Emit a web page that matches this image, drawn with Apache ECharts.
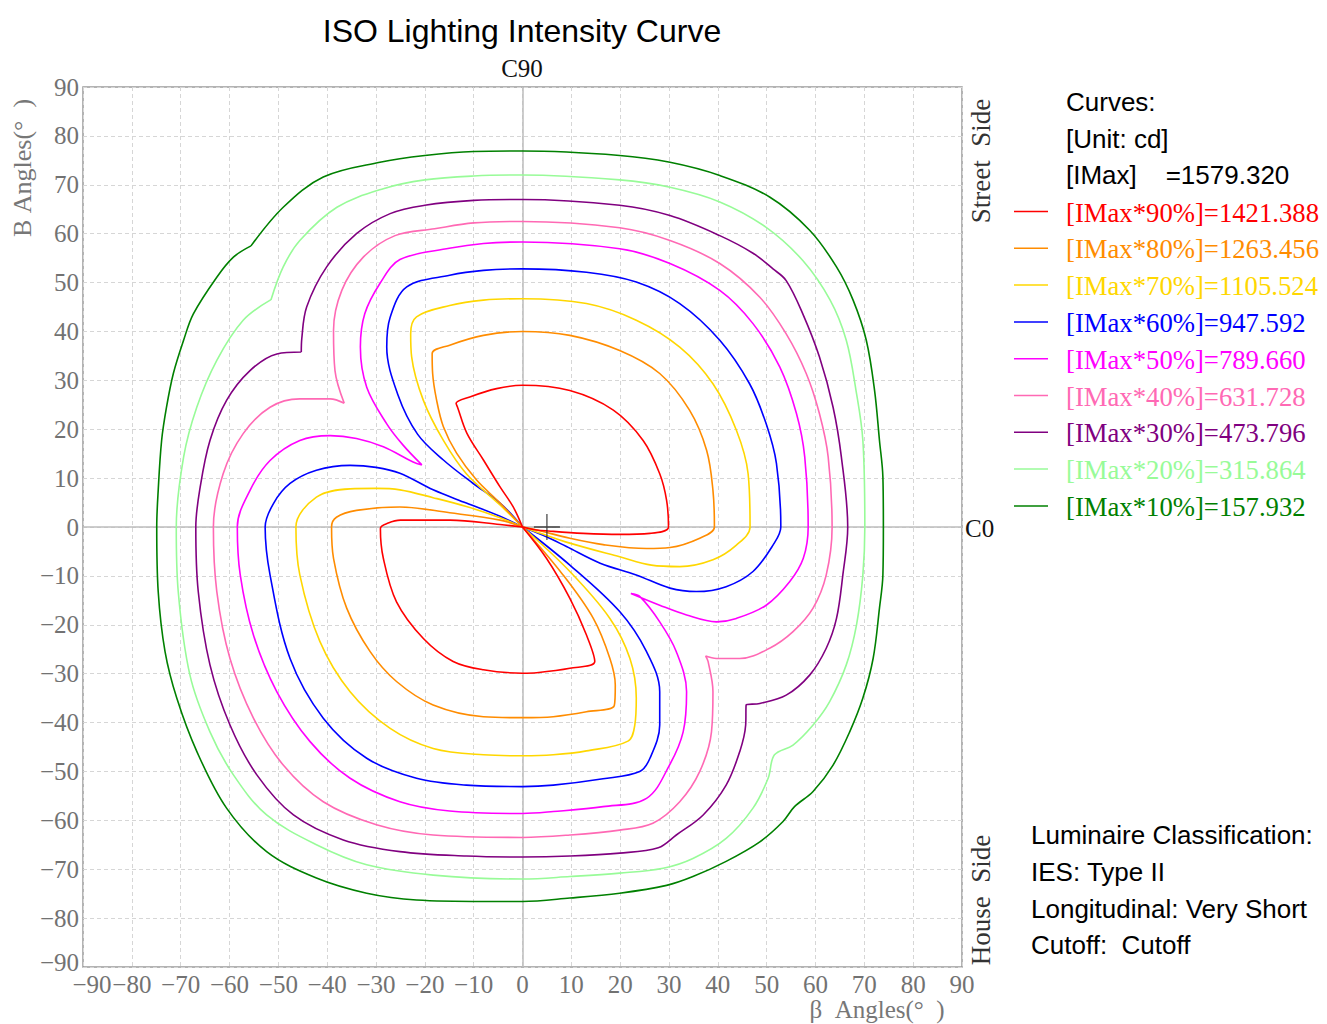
<!DOCTYPE html>
<html><head><meta charset="utf-8">
<script src="https://cdn.jsdelivr.net/npm/echarts@6/dist/echarts.min.js"></script>
<style>html,body{margin:0;padding:0;background:#fff}#main{width:1327px;height:1024px}</style>
</head><body><div id="main"></div>
<script>
// axis ticks
const betaTicks = [-90,-80,-70,-60,-50,-40,-30,-20,-10,0,10,20,30,40,50,60,70,80,90];
const bTicks = [-90,-80,-70,-60,-50,-40,-30,-20,-10,0,10,20,30,40,50,60,70,80,90];

// legend
const levelNames = ['[IMax*90%]=1421.388','[IMax*80%]=1263.456','[IMax*70%]=1105.524','[IMax*60%]=947.592','[IMax*50%]=789.660','[IMax*40%]=631.728','[IMax*30%]=473.796','[IMax*20%]=315.864','[IMax*10%]=157.932'];
const levelColors = ['#ff0000','#ff8c00','#ffd700','#0000ff','#ff00ff','#ff69b4','#800080','#98fb98','#008000'];
const headerLines = ['Curves:','[Unit: cd]','[IMax]\u00a0\u00a0\u00a0\u00a0=1579.320'];
const classLines = ['Luminaire Classification:','IES: Type II','Longitudinal: Very Short','Cutoff:\u00a0\u00a0Cutoff'];

// isolux curves [beta, B]; a repeated point marks a sharp corner
const c90Upper = [[0,0],[-1.9,4.1],[-4.6,8.2],[-8,13.7],[-11.4,19.2],[-13.3,24.5],[-13.6,25.3],[-13.6,25.3],[-10.8,26.6],[-5.3,28.3],[0,29.0],[9.7,27.9],[18.6,23.9],[24.7,17.7],[28.1,10.9],[29.5,5.5],[29.9,0],[29.9,0],[26.1,-1.3],[19.9,-1.5],[12.4,-1.3],[6.3,-0.9],[2.2,-0.5],[0,0]];
const c90Lower = [[0,0],[-4.6,0.5],[-14.8,1.4],[-25,1.4],[-27.5,0.8],[-29.1,-0.3],[-29.1,-0.3],[-28.5,-6.4],[-25.8,-15.3],[-20.3,-22.8],[-14.2,-27.5],[-8,-29.2],[0,-29.9],[2.9,-29.8],[9.7,-28.9],[14.8,-27.5],[14.8,-27.5],[13.1,-22.1],[9.7,-14.6],[4.9,-6.4],[0,0]];
const c80Upper = [[0,0],[-4.6,4.9],[-9.4,9.6],[-13.5,15.1],[-16.2,20.5],[-17.6,26],[-18.4,31.4],[-18.5,35.5],[-18.5,35.5],[-14.9,37.2],[-8,39.2],[0,40],[9.7,39.2],[19.9,36.1],[28.1,31.4],[34.2,23.9],[37.7,15.7],[39,7.5],[39.3,0],[39.3,0],[36.3,-2.3],[30.2,-4.2],[25.4,-4.4],[16.5,-3.6],[9.7,-2.3],[2.9,-0.6],[0,0]];
const c80Lower = [[0,0],[-4.6,1.4],[-14.9,2.9],[-25.1,4.1],[-34,3.4],[-38.1,2],[-39.1,0],[-39.1,0],[-38.7,-6.4],[-36,-16.6],[-31.2,-25.5],[-25.8,-31.6],[-18.3,-36.4],[-8,-38.8],[0,-39],[6.3,-38.8],[13.1,-37.8],[18.8,-36.5],[18.8,-36.5],[19,-32.3],[17.9,-26.9],[14.5,-18.7],[8.3,-9.8],[0,0]];
const c70Upper = [[0,0],[-4.6,4.5],[-11.5,10.9],[-16.2,17.7],[-20.3,25.9],[-22.7,34.8],[-22.9,39.5],[-21.7,43],[-21.7,43],[-14.9,45.3],[-8,46.4],[0,46.7],[13.1,45.7],[23.3,42.3],[32.2,36.8],[39,29.3],[43.8,19.8],[46.2,10.9],[46.6,0],[46.6,0],[43.8,-3.7],[39,-6.7],[32.2,-8.1],[26.4,-7.8],[19.9,-6.1],[9.7,-3.3],[2.9,-1],[0,0]];
const c70Lower = [[0,0],[-4.6,1.9],[-11.5,4.2],[-18.3,6],[-25.1,7.6],[-30,7.9],[-35.3,7.8],[-42.2,6.1],[-46.4,0],[-46.4,0],[-45.6,-9.8],[-41.5,-23.4],[-35.3,-33.7],[-27.1,-41.2],[-18.3,-45.3],[-8,-46.6],[0,-46.8],[6.3,-46.6],[13.1,-45.8],[21.6,-43.8],[21.6,-43.8],[23,-40.5],[23.3,-35],[22,-26.9],[17.9,-18.7],[9.7,-9.1],[0,0]];
const c60Upper = [[0,0],[-4.6,4.9],[-10.1,8.9],[-16.2,13.7],[-21.5,19],[-25.5,27],[-27.8,36.8],[-27.1,42.9],[-23.7,49.1],[-23.7,49.1],[-14.9,51.5],[-8,52.5],[0,52.8],[13.1,52.1],[23.3,50.1],[32.2,45.7],[40.4,38.2],[46.5,29.3],[49.9,21.1],[52,13],[52.9,0],[51.3,-3.7],[47.2,-9.1],[41.7,-12.2],[35.6,-13.2],[30.2,-12.5],[23.3,-9.8],[15.9,-7.4],[9,-4],[4.9,-2],[0,0]];
const c60Lower = [[0,0],[-4.6,2.2],[-11.5,4.9],[-18.3,7.6],[-25.1,11],[-30,12.2],[-35.3,12.6],[-42.2,11.6],[-47.6,8.9],[-51,4.8],[-52.7,0],[-51.7,-9.8],[-47.6,-26.9],[-40.8,-39.1],[-31.9,-47.3],[-21.7,-51.4],[-11.5,-52.8],[0,-53.1],[6.3,-52.8],[16.5,-51.5],[24,-50],[24,-50],[26.1,-47.3],[28.1,-40.5],[28.1,-33.7],[25.4,-25.5],[19.9,-17.3],[9.7,-7.8],[0,0]];
const c50 = [[-20.6,12.7],[-22.4,13.3],[-28.5,16.4],[-34,18.1],[-39.4,18.7],[-45.6,17.7],[-51.7,13.6],[-55.8,7.5],[-58.4,0],[-57.8,-9.8],[-55.1,-22.1],[-50.3,-33.7],[-43.5,-43.9],[-35.3,-51.4],[-25.1,-56.2],[-14.9,-58.1],[0,-58.6],[6.3,-58.2],[16.5,-57.2],[25.4,-55.5],[25.4,-55.5],[30.1,-48.7],[32.9,-41.9],[33.6,-33.7],[31.5,-25.5],[28.1,-19.4],[24,-14.2],[22.2,-13.6],[22.2,-13.6],[28.1,-16],[33.6,-18],[39.7,-19.4],[43.8,-18.7],[49.9,-16],[54.7,-11.2],[57.5,-6.4],[58.5,0],[57.8,14.3],[56.1,23.2],[52.7,32.7],[47.2,41.6],[40.4,48.4],[30.2,53.9],[19.9,56.9],[0,58.3],[-8,58],[-15,57],[-25.1,54.7],[-25.1,54.7],[-29.2,49.8],[-32.3,43.6],[-33.2,36.8],[-31.9,28.6],[-27.8,21.1],[-24.5,16.8],[-20.6,12.7]];
const c40 = [[-36.5,25.3],[-39.4,26.2],[-45.6,26.2],[-51.7,24.5],[-57.2,19.1],[-61.3,10.9],[-63.3,0],[-62.6,-13.2],[-59.9,-26.9],[-55.1,-39.1],[-49,-48.7],[-40.8,-56.2],[-29.9,-60.9],[-18.3,-63],[0,-63.5],[9.7,-63],[19.9,-62],[26.7,-60.6],[26.7,-60.6],[32.2,-56.2],[36.3,-50],[38.7,-41.9],[39,-33.7],[38,-27.5],[37.5,-26.4],[37.5,-26.4],[39.7,-26.9],[44.5,-26.9],[50.6,-24.8],[55.4,-21.4],[59.5,-16.6],[62.2,-9.8],[63.4,0],[62.6,14.3],[60.8,23.2],[58.1,31.4],[54,39.5],[48.6,47],[40.4,53.9],[30.2,58.6],[19.9,61.2],[0,62.5],[-10,62.2],[-18,61],[-26.1,59.6],[-26.1,59.6],[-32.6,55.2],[-37,48.4],[-38.7,40.2],[-38.4,32],[-36.5,25.3]];
const c30 = [[-45.3,35.8],[-50.3,35.4],[-55.8,32],[-60.6,25.9],[-64,17.7],[-66,8.2],[-66.9,0],[-66.4,-13.2],[-64,-28.2],[-59.9,-40.5],[-54.4,-50.7],[-46.9,-58.9],[-36.7,-64],[-25.1,-66.4],[-11.5,-67.3],[0,-67.5],[9.7,-67.3],[19.9,-66.7],[27.8,-65.6],[27.8,-65.6],[31.5,-63],[37,-58.9],[41.7,-52.8],[44.5,-45.9],[45.7,-40.5],[45.8,-36.4],[45.8,-36.4],[48.6,-36.1],[54,-34.4],[58.8,-30.3],[62.2,-24.8],[64.3,-18.7],[65.6,-9.8],[66.6,0],[65.3,14.3],[63.6,24.5],[60.8,34.8],[57.4,43.6],[54,50.4],[51.3,52.8],[47.2,56],[40.4,59.6],[30.2,63.7],[19.9,65.8],[0,67],[-10,66.8],[-20,65.8],[-27.1,64.1],[-27.1,64.1],[-34,60],[-40.1,53.2],[-44.2,45],[-45.2,38.5],[-45.3,35.8]];
const c20 = [[-51.5,46.5],[-57.2,42.3],[-62.6,34.1],[-66.7,24.5],[-69.4,14.3],[-70.9,0],[-70.5,-13.2],[-68.1,-30.3],[-64,-41.9],[-59.2,-50.7],[-52.4,-58.9],[-42.2,-65],[-31.9,-69.1],[-18.3,-71.2],[0,-72],[9.7,-71.5],[19.9,-70.8],[28.8,-69.8],[28.8,-69.8],[34.9,-67.8],[41.7,-63.7],[47.2,-57.5],[50.3,-51.4],[51.6,-46.6],[51.6,-46.6],[55.4,-44.6],[59.5,-40.5],[62.9,-35.7],[66.3,-28.2],[68.4,-20],[69.7,-9.8],[70.1,0],[69.7,17.7],[68.3,27.9],[66.3,38.2],[63,46.4],[57.4,54.5],[49.9,61.3],[40.4,66.5],[30.2,69.5],[19.9,71],[0,72],[-10,71.8],[-20,71],[-28.5,69.2],[-28.5,69.2],[-38,65.4],[-45.6,58.6],[-49,53.2],[-51.5,46.5]];
const c10 = [[-55.6,57.5],[-59.2,55.2],[-62.6,51.1],[-67.4,43.6],[-69.4,38.2],[-71.5,31.4],[-72.9,24.5],[-73.9,17.7],[-74.6,7.5],[-74.9,0],[-74.6,-13.2],[-73.2,-25.5],[-70.8,-35],[-66.7,-45.9],[-60.6,-57.5],[-52.4,-66.4],[-42.2,-71.8],[-31.9,-74.9],[-21.7,-76.3],[-8,-76.6],[0,-76.6],[9.7,-75.9],[19.9,-74.9],[29.5,-73.3],[34.9,-71.5],[41.7,-68.4],[48.6,-64.4],[53.3,-60.3],[55.7,-57.2],[55.7,-57.2],[59.5,-54.1],[63.6,-48.7],[67,-41.9],[69.7,-35],[71.8,-26.9],[73.1,-16.6],[73.8,-9.8],[73.9,0],[73.8,10.2],[73.1,17.7],[72.1,27.9],[70.4,38.2],[67.7,46.4],[64.3,53.2],[58.8,60.7],[50.6,67.5],[40.4,71.9],[30.2,74.6],[19.9,76],[0,76.9],[-10,76.8],[-20,76],[-29.2,74.6],[-40.8,71.6],[-49,65.4],[-55.6,57.5]];

const crossMark = [[5,0]];

const levelCurves = [[c90Upper,c90Lower],[c80Upper,c80Lower],[c70Upper,c70Lower],[c60Upper,c60Lower],[c50],[c40],[c30],[c20],[c10]];

const SERIF = '"Liberation Serif","DejaVu Serif",serif';
const SANS = '"Liberation Sans",Arial,sans-serif';
const LABEL_COLOR = '#727272';
const minusText = v => String(v).replace('-', '\u2212');

const series = [];
levelCurves.forEach((parts, i) => {
  parts.forEach(p => {
    series.push({
      name: levelNames[i], type: 'line', data: p, showSymbol: false, symbol: 'none',
      smooth: 0.35,
      lineStyle: {color: levelColors[i], width: 1.6}, itemStyle: {color: levelColors[i]},
      z: 20 - i, silent: true, animation: false
    });
  });
});
series.push({
  type: 'scatter', data: crossMark, symbol: 'path://M10,0 L10,20 M0,10 L20,10', symbolSize: 26,
  itemStyle: {color: 'none', borderColor: '#222', borderWidth: 1.3}, z: 30, silent: true, animation: false,
  markLine: {silent: true, symbol: 'none', label: {show: false}, animation: false,
    lineStyle: {color: '#bdbdbd', type: 'solid', width: 1.5},
    data: [{xAxis: 0}, {yAxis: 0}]}
});

const graphic = [];
function txt(t, x, y, font, fill, align, rot) {
  graphic.push({type: 'text', x: x, y: y, rotation: rot || 0, silent: true,
    style: {text: t, font: font, fill: fill, align: align || 'left', verticalAlign: 'middle'}});
}
txt('ISO Lighting Intensity Curve', 522, 31, 'normal 32px ' + SANS, '#000', 'center');
txt('C90', 522, 68, 'normal 25px ' + SERIF, '#111', 'center');
txt('C0', 965, 528, 'normal 25px ' + SERIF, '#111', 'left');
txt('Street\u00a0\u00a0Side', 981, 161, 'normal 27px ' + SERIF, '#333', 'center', Math.PI/2);
txt('House\u00a0\u00a0Side', 981, 900, 'normal 27px ' + SERIF, '#333', 'center', Math.PI/2);
txt('B\u00a0Angles(\u00b0\u00a0\u00a0)', 22, 168, 'normal 26px ' + SERIF, '#777', 'center', Math.PI/2);
txt('\u03b2\u00a0\u00a0Angles(\u00b0\u00a0\u00a0)', 877, 1009, 'normal 25px ' + SERIF, '#777', 'center');
headerLines.forEach((t, i) => txt(t, 1066, 102 + i * 36.6, 'normal 26px ' + SANS, '#000', 'left'));
levelNames.forEach((t, i) => {
  const y = 211.5 + i * 36.8;
  graphic.push({type: 'line', silent: true, shape: {x1: 1014, y1: y, x2: 1048, y2: y},
    style: {stroke: levelColors[i], lineWidth: 1.5}});
  txt(t, 1066, y + 1, 'normal 26.7px ' + SERIF, levelColors[i], 'left');
});
classLines.forEach((t, i) => txt(t, 1031, 835 + i * 36.8, 'normal 26px ' + SANS, '#000', 'left'));

const labelBase = {fontFamily: SERIF, fontSize: 25, color: LABEL_COLOR};
const chart = echarts.init(document.getElementById('main'), null, {renderer: 'svg'});
chart.setOption({
  backgroundColor: '#fff',
  animation: false,
  grid: {left: 83, right: 365, top: 87, bottom: 57, show: true, borderColor: '#9a9a9a', borderWidth: 1.5, backgroundColor: 'transparent'},
  xAxis: {type: 'value', min: betaTicks[0], max: betaTicks[betaTicks.length-1], interval: betaTicks[1]-betaTicks[0],
    axisLine: {show: false}, axisTick: {show: false},
    axisLabel: Object.assign({}, labelBase, {margin: 5, hideOverlap: false, showMinLabel: true, showMaxLabel: true,
      formatter: v => v === betaTicks[0] ? '{m|' + minusText(v) + '}' : minusText(v),
      rich: {m: Object.assign({}, labelBase, {padding: [0, 0, 0, 18]})}}),
    splitLine: {show: true, lineStyle: {color: '#d6d6d6', type: [4, 3], width: 1}}},
  yAxis: {type: 'value', min: bTicks[0], max: bTicks[bTicks.length-1], interval: bTicks[1]-bTicks[0],
    axisLine: {show: false}, axisTick: {show: false},
    axisLabel: Object.assign({}, labelBase, {margin: 4, hideOverlap: false, showMinLabel: true, showMaxLabel: true,
      formatter: v => v === bTicks[0] ? '{m|' + minusText(v) + '}' : minusText(v),
      rich: {m: Object.assign({}, labelBase, {padding: [0, 0, 9, 0]})}}),
    splitLine: {show: true, lineStyle: {color: '#d6d6d6', type: [4, 3], width: 1}}},
  series: series,
  graphic: graphic
});
</script></body></html>
